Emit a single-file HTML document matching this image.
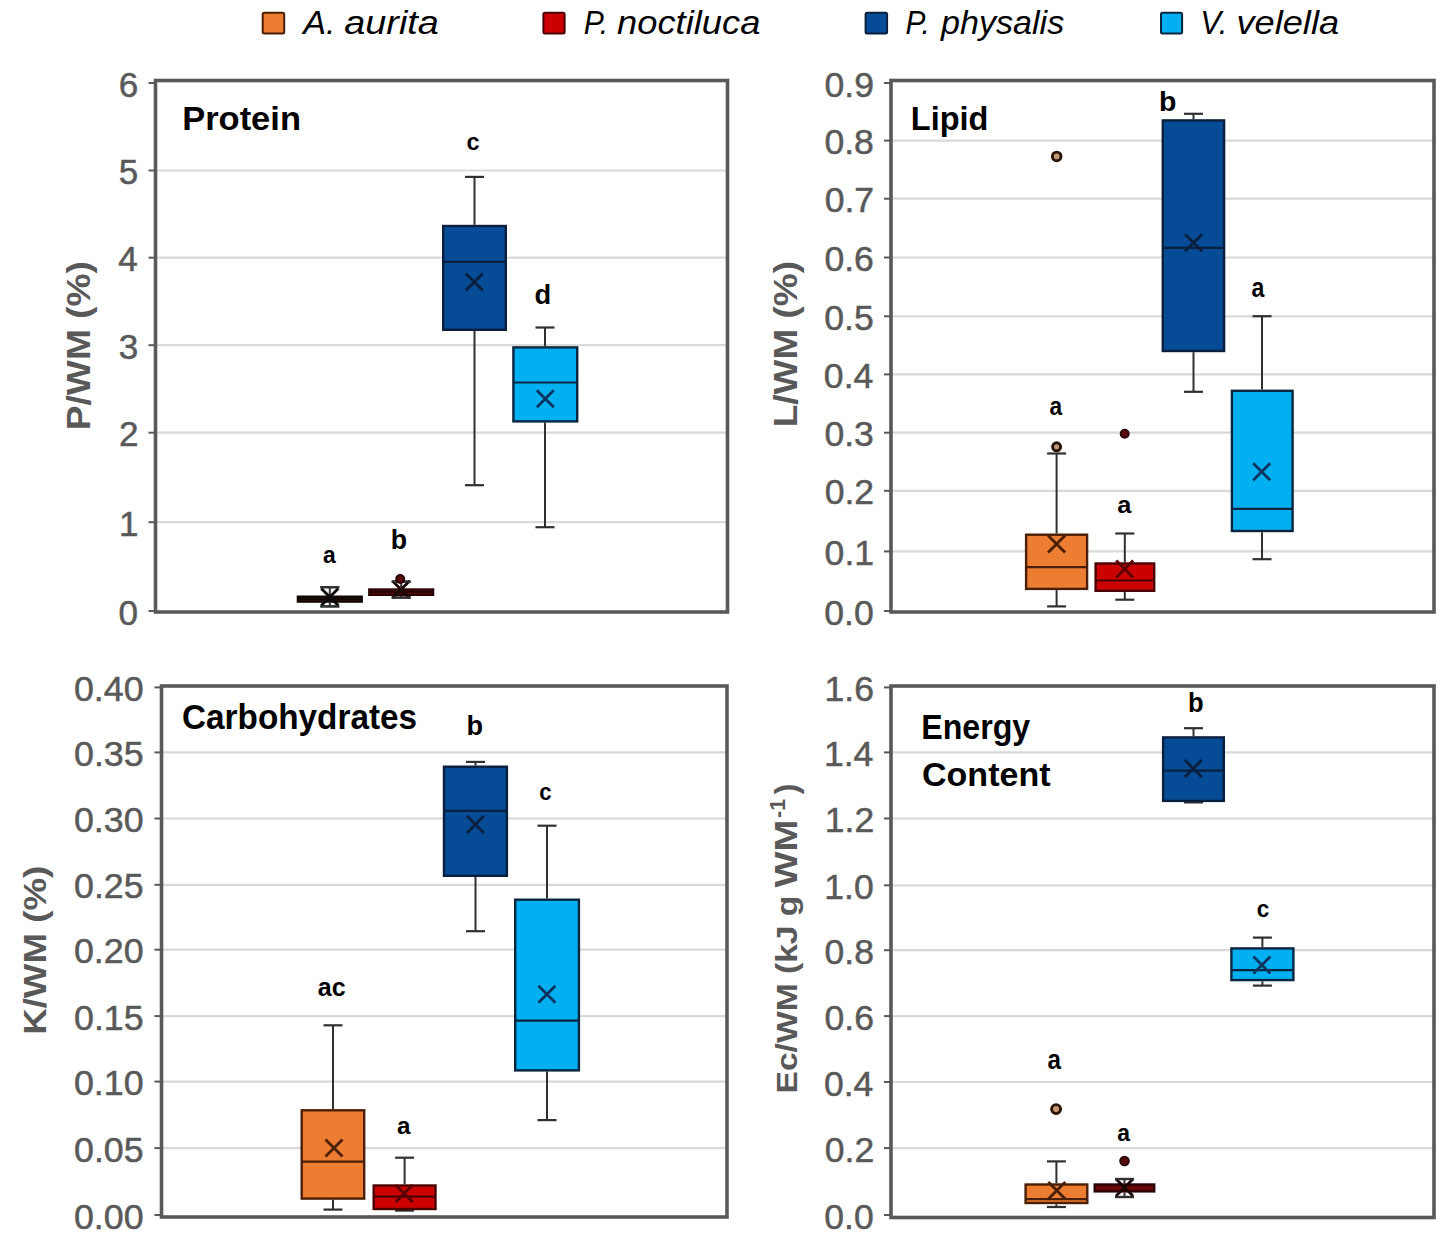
<!DOCTYPE html>
<html><head><meta charset="utf-8"><style>
html,body{margin:0;padding:0;background:#fff;}
svg{display:block;font-family:"Liberation Sans", sans-serif;}
</style></head><body>
<svg width="1450" height="1250" viewBox="0 0 1450 1250">
<rect width="1450" height="1250" fill="#ffffff"/>
<rect x="262.7" y="12.7" width="21.5" height="20.900000000000002" rx="1.5" fill="#ED7D31" stroke="#4a1f05" stroke-width="2"/>
<text x="303.32" y="34.30" font-size="33.45" font-weight="normal" font-style="italic" fill="#000000" stroke="#000000" stroke-width="0" textLength="32.26" lengthAdjust="spacingAndGlyphs">A.</text>
<text x="344.35" y="34.30" font-size="33.45" font-weight="normal" font-style="italic" fill="#000000" stroke="#000000" stroke-width="0" textLength="94.54" lengthAdjust="spacingAndGlyphs">aurita</text>
<rect x="543.4" y="12.7" width="21.200000000000045" height="20.900000000000002" rx="1.5" fill="#CC0000" stroke="#4a0000" stroke-width="2"/>
<text x="583.70" y="34.30" font-size="33.45" font-weight="normal" font-style="italic" fill="#000000" stroke="#000000" stroke-width="0" textLength="24.51" lengthAdjust="spacingAndGlyphs">P.</text>
<text x="617.06" y="34.30" font-size="33.45" font-weight="normal" font-style="italic" fill="#000000" stroke="#000000" stroke-width="0" textLength="143.39" lengthAdjust="spacingAndGlyphs">noctiluca</text>
<rect x="865.6" y="12.7" width="21.5" height="20.900000000000002" rx="1.5" fill="#064B96" stroke="#0a1f3d" stroke-width="2"/>
<text x="905.40" y="34.30" font-size="33.45" font-weight="normal" font-style="italic" fill="#000000" stroke="#000000" stroke-width="0" textLength="24.39" lengthAdjust="spacingAndGlyphs">P.</text>
<text x="941.05" y="34.30" font-size="33.45" font-weight="normal" font-style="italic" fill="#000000" stroke="#000000" stroke-width="0" textLength="123.14" lengthAdjust="spacingAndGlyphs">physalis</text>
<rect x="1161.0" y="12.7" width="21.09999999999991" height="20.900000000000002" rx="1.5" fill="#00B0F0" stroke="#0a2540" stroke-width="2"/>
<text x="1200.26" y="34.30" font-size="33.45" font-weight="normal" font-style="italic" fill="#000000" stroke="#000000" stroke-width="0" textLength="27.31" lengthAdjust="spacingAndGlyphs">V.</text>
<text x="1236.51" y="34.30" font-size="33.45" font-weight="normal" font-style="italic" fill="#000000" stroke="#000000" stroke-width="0" textLength="102.57" lengthAdjust="spacingAndGlyphs">velella</text>
<line x1="155.5" y1="170.5" x2="727.5" y2="170.5" stroke="#d9d9d9" stroke-width="2.2"/>
<line x1="155.5" y1="257.7" x2="727.5" y2="257.7" stroke="#d9d9d9" stroke-width="2.2"/>
<line x1="155.5" y1="345.2" x2="727.5" y2="345.2" stroke="#d9d9d9" stroke-width="2.2"/>
<line x1="155.5" y1="432.7" x2="727.5" y2="432.7" stroke="#d9d9d9" stroke-width="2.2"/>
<line x1="155.5" y1="522.2" x2="727.5" y2="522.2" stroke="#d9d9d9" stroke-width="2.2"/>
<line x1="148.5" y1="83" x2="155.5" y2="83" stroke="#595959" stroke-width="2"/>
<line x1="148.5" y1="170.5" x2="155.5" y2="170.5" stroke="#595959" stroke-width="2"/>
<line x1="148.5" y1="257.7" x2="155.5" y2="257.7" stroke="#595959" stroke-width="2"/>
<line x1="148.5" y1="345.2" x2="155.5" y2="345.2" stroke="#595959" stroke-width="2"/>
<line x1="148.5" y1="432.7" x2="155.5" y2="432.7" stroke="#595959" stroke-width="2"/>
<line x1="148.5" y1="522.2" x2="155.5" y2="522.2" stroke="#595959" stroke-width="2"/>
<line x1="148.5" y1="611" x2="155.5" y2="611" stroke="#595959" stroke-width="2"/>
<rect x="155.5" y="80.5" width="572.0" height="531.5" fill="none" stroke="#595959" stroke-width="3.6"/>
<text x="118.79" y="96.50" font-size="34.70" font-weight="normal" font-style="normal" fill="#595959" stroke="#595959" stroke-width="0.5" textLength="19.53" lengthAdjust="spacingAndGlyphs">6</text>
<text x="118.70" y="184.00" font-size="34.70" font-weight="normal" font-style="normal" fill="#595959" stroke="#595959" stroke-width="0.5" textLength="19.53" lengthAdjust="spacingAndGlyphs">5</text>
<text x="118.25" y="271.20" font-size="34.70" font-weight="normal" font-style="normal" fill="#595959" stroke="#595959" stroke-width="0.5" textLength="19.53" lengthAdjust="spacingAndGlyphs">4</text>
<text x="118.79" y="358.70" font-size="34.70" font-weight="normal" font-style="normal" fill="#595959" stroke="#595959" stroke-width="0.5" textLength="19.53" lengthAdjust="spacingAndGlyphs">3</text>
<text x="119.06" y="446.20" font-size="34.70" font-weight="normal" font-style="normal" fill="#595959" stroke="#595959" stroke-width="0.5" textLength="19.53" lengthAdjust="spacingAndGlyphs">2</text>
<text x="118.97" y="535.70" font-size="34.70" font-weight="normal" font-style="normal" fill="#595959" stroke="#595959" stroke-width="0.5" textLength="19.53" lengthAdjust="spacingAndGlyphs">1</text>
<text x="118.61" y="624.50" font-size="34.70" font-weight="normal" font-style="normal" fill="#595959" stroke="#595959" stroke-width="0.5" textLength="19.53" lengthAdjust="spacingAndGlyphs">0</text>
<text transform="translate(90.30,427.80) rotate(-90)" x="-2.51" y="0" font-size="32.55" font-weight="bold" fill="#595959" textLength="169.26" lengthAdjust="spacingAndGlyphs">P/WM (%)</text>
<text x="182.17" y="130.20" font-size="32.55" font-weight="bold" font-style="normal" fill="#000000" textLength="118.79" lengthAdjust="spacingAndGlyphs">Protein</text>
<line x1="474.5" y1="176.9" x2="474.5" y2="224.8" stroke="#303030" stroke-width="2"/>
<line x1="474.5" y1="331" x2="474.5" y2="485.2" stroke="#303030" stroke-width="2"/>
<line x1="465.0" y1="176.9" x2="484.0" y2="176.9" stroke="#303030" stroke-width="2.2"/>
<line x1="465.0" y1="485.2" x2="484.0" y2="485.2" stroke="#303030" stroke-width="2.2"/>
<rect x="443.2" y="226.0" width="62.6" height="103.79999999999998" fill="#064B96" stroke="#0a1f3d" stroke-width="2.4"/>
<line x1="443.2" y1="261.8" x2="505.8" y2="261.8" stroke="#0a1f3d" stroke-width="2.2"/>
<path d="M465.8,273.5L482.8,290.5M465.8,290.5L482.8,273.5" stroke="#0a1f3d" stroke-width="2.8" fill="none"/>
<line x1="545" y1="327.5" x2="545" y2="346.2" stroke="#303030" stroke-width="2"/>
<line x1="545" y1="422.6" x2="545" y2="527.2" stroke="#303030" stroke-width="2"/>
<line x1="535.5" y1="327.5" x2="554.5" y2="327.5" stroke="#303030" stroke-width="2.2"/>
<line x1="535.5" y1="527.2" x2="554.5" y2="527.2" stroke="#303030" stroke-width="2.2"/>
<rect x="513.4000000000001" y="347.4" width="63.79999999999993" height="74.00000000000003" fill="#00B0F0" stroke="#0a2540" stroke-width="2.4"/>
<line x1="513.4000000000001" y1="382.5" x2="577.1999999999999" y2="382.5" stroke="#0a2540" stroke-width="2.2"/>
<path d="M536.8,390.3L553.8,407.3M536.8,407.3L553.8,390.3" stroke="#0b3460" stroke-width="2.8" fill="none"/>
<line x1="329.8" y1="587.2" x2="329.8" y2="595.5" stroke="#303030" stroke-width="2"/>
<line x1="329.8" y1="602.8" x2="329.8" y2="606.4" stroke="#303030" stroke-width="2"/>
<line x1="320.3" y1="587.2" x2="339.3" y2="587.2" stroke="#303030" stroke-width="2.2"/>
<line x1="320.3" y1="606.4" x2="339.3" y2="606.4" stroke="#303030" stroke-width="2.2"/>
<rect x="297.9" y="596.7" width="63.79999999999999" height="4.899999999999954" fill="#3a160a" stroke="#140804" stroke-width="2.4"/>
<line x1="297.9" y1="599" x2="361.7" y2="599" stroke="#140804" stroke-width="2.2"/>
<path d="M321.3,588.5L338.3,605.5M321.3,605.5L338.3,588.5" stroke="#0a0a0a" stroke-width="2.8" fill="none"/>
<line x1="320.3" y1="587.2" x2="339.3" y2="587.2" stroke="#303030" stroke-width="2.2"/>
<line x1="320.3" y1="606.4" x2="339.3" y2="606.4" stroke="#303030" stroke-width="2.2"/>
<line x1="401.2" y1="581.6" x2="401.2" y2="588.3" stroke="#303030" stroke-width="2"/>
<line x1="401.2" y1="596.0" x2="401.2" y2="597.6" stroke="#303030" stroke-width="2"/>
<line x1="391.7" y1="581.6" x2="410.7" y2="581.6" stroke="#303030" stroke-width="2.2"/>
<line x1="391.7" y1="597.6" x2="410.7" y2="597.6" stroke="#303030" stroke-width="2.2"/>
<rect x="369.3" y="589.5" width="63.79999999999999" height="5.300000000000045" fill="#7a0808" stroke="#2a0505" stroke-width="2.4"/>
<line x1="369.3" y1="592" x2="433.1" y2="592" stroke="#2a0505" stroke-width="2.2"/>
<path d="M392.5,581.0L409.5,598.0M392.5,598.0L409.5,581.0" stroke="#1a0505" stroke-width="2.8" fill="none"/>
<line x1="391.7" y1="581.6" x2="410.7" y2="581.6" stroke="#303030" stroke-width="2.2"/>
<line x1="391.7" y1="597.6" x2="410.7" y2="597.6" stroke="#303030" stroke-width="2.2"/>
<circle cx="400.2" cy="579" r="4.0" fill="#5a0a0a" stroke="#2a0505" stroke-width="2"/>
<text x="322.91" y="562.50" font-size="24.74" font-weight="bold" font-style="normal" fill="#000000" textLength="12.74" lengthAdjust="spacingAndGlyphs">a</text>
<text x="390.76" y="549.20" font-size="27.31" font-weight="bold" font-style="normal" fill="#000000" textLength="16.33" lengthAdjust="spacingAndGlyphs">b</text>
<text x="466.56" y="149.50" font-size="24.00" font-weight="bold" font-style="normal" fill="#000000" textLength="13.12" lengthAdjust="spacingAndGlyphs">c</text>
<text x="534.41" y="303.80" font-size="26.90" font-weight="bold" font-style="normal" fill="#000000" textLength="16.69" lengthAdjust="spacingAndGlyphs">d</text>
<line x1="891" y1="140.6" x2="1434" y2="140.6" stroke="#d9d9d9" stroke-width="2.2"/>
<line x1="891" y1="198.7" x2="1434" y2="198.7" stroke="#d9d9d9" stroke-width="2.2"/>
<line x1="891" y1="257.5" x2="1434" y2="257.5" stroke="#d9d9d9" stroke-width="2.2"/>
<line x1="891" y1="316.3" x2="1434" y2="316.3" stroke="#d9d9d9" stroke-width="2.2"/>
<line x1="891" y1="374.4" x2="1434" y2="374.4" stroke="#d9d9d9" stroke-width="2.2"/>
<line x1="891" y1="432.7" x2="1434" y2="432.7" stroke="#d9d9d9" stroke-width="2.2"/>
<line x1="891" y1="490.8" x2="1434" y2="490.8" stroke="#d9d9d9" stroke-width="2.2"/>
<line x1="891" y1="551.4" x2="1434" y2="551.4" stroke="#d9d9d9" stroke-width="2.2"/>
<line x1="884" y1="83" x2="891" y2="83" stroke="#595959" stroke-width="2"/>
<line x1="884" y1="140.6" x2="891" y2="140.6" stroke="#595959" stroke-width="2"/>
<line x1="884" y1="198.7" x2="891" y2="198.7" stroke="#595959" stroke-width="2"/>
<line x1="884" y1="257.5" x2="891" y2="257.5" stroke="#595959" stroke-width="2"/>
<line x1="884" y1="316.3" x2="891" y2="316.3" stroke="#595959" stroke-width="2"/>
<line x1="884" y1="374.4" x2="891" y2="374.4" stroke="#595959" stroke-width="2"/>
<line x1="884" y1="432.7" x2="891" y2="432.7" stroke="#595959" stroke-width="2"/>
<line x1="884" y1="490.8" x2="891" y2="490.8" stroke="#595959" stroke-width="2"/>
<line x1="884" y1="551.4" x2="891" y2="551.4" stroke="#595959" stroke-width="2"/>
<line x1="884" y1="611" x2="891" y2="611" stroke="#595959" stroke-width="2"/>
<rect x="891" y="80.5" width="543" height="531.5" fill="none" stroke="#595959" stroke-width="3.6"/>
<text x="824.51" y="96.50" font-size="34.70" font-weight="normal" font-style="normal" fill="#595959" stroke="#595959" stroke-width="0.5" textLength="49.46" lengthAdjust="spacingAndGlyphs">0.9</text>
<text x="824.42" y="154.10" font-size="34.70" font-weight="normal" font-style="normal" fill="#595959" stroke="#595959" stroke-width="0.5" textLength="49.46" lengthAdjust="spacingAndGlyphs">0.8</text>
<text x="824.69" y="212.20" font-size="34.70" font-weight="normal" font-style="normal" fill="#595959" stroke="#595959" stroke-width="0.5" textLength="49.46" lengthAdjust="spacingAndGlyphs">0.7</text>
<text x="824.42" y="271.00" font-size="34.70" font-weight="normal" font-style="normal" fill="#595959" stroke="#595959" stroke-width="0.5" textLength="49.46" lengthAdjust="spacingAndGlyphs">0.6</text>
<text x="824.33" y="329.80" font-size="34.70" font-weight="normal" font-style="normal" fill="#595959" stroke="#595959" stroke-width="0.5" textLength="49.46" lengthAdjust="spacingAndGlyphs">0.5</text>
<text x="823.88" y="387.90" font-size="34.70" font-weight="normal" font-style="normal" fill="#595959" stroke="#595959" stroke-width="0.5" textLength="49.46" lengthAdjust="spacingAndGlyphs">0.4</text>
<text x="824.42" y="446.20" font-size="34.70" font-weight="normal" font-style="normal" fill="#595959" stroke="#595959" stroke-width="0.5" textLength="49.46" lengthAdjust="spacingAndGlyphs">0.3</text>
<text x="824.69" y="504.30" font-size="34.70" font-weight="normal" font-style="normal" fill="#595959" stroke="#595959" stroke-width="0.5" textLength="49.46" lengthAdjust="spacingAndGlyphs">0.2</text>
<text x="824.60" y="564.90" font-size="34.70" font-weight="normal" font-style="normal" fill="#595959" stroke="#595959" stroke-width="0.5" textLength="49.46" lengthAdjust="spacingAndGlyphs">0.1</text>
<text x="824.24" y="624.50" font-size="34.70" font-weight="normal" font-style="normal" fill="#595959" stroke="#595959" stroke-width="0.5" textLength="49.46" lengthAdjust="spacingAndGlyphs">0.0</text>
<text transform="translate(796.50,424.80) rotate(-90)" x="-2.50" y="0" font-size="32.55" font-weight="bold" fill="#595959" textLength="166.29" lengthAdjust="spacingAndGlyphs">L/WM (%)</text>
<text x="910.81" y="130.40" font-size="32.55" font-weight="bold" font-style="normal" fill="#000000" textLength="77.63" lengthAdjust="spacingAndGlyphs">Lipid</text>
<line x1="1193.5" y1="113.8" x2="1193.5" y2="119.2" stroke="#303030" stroke-width="2"/>
<line x1="1193.5" y1="352.2" x2="1193.5" y2="391.8" stroke="#303030" stroke-width="2"/>
<line x1="1184.0" y1="113.8" x2="1203.0" y2="113.8" stroke="#303030" stroke-width="2.2"/>
<line x1="1184.0" y1="391.8" x2="1203.0" y2="391.8" stroke="#303030" stroke-width="2.2"/>
<rect x="1162.8" y="120.4" width="61.30000000000005" height="230.6" fill="#064B96" stroke="#0a1f3d" stroke-width="2.4"/>
<line x1="1162.8" y1="247.8" x2="1224.1" y2="247.8" stroke="#0a1f3d" stroke-width="2.2"/>
<path d="M1185.1,234.2L1202.1,251.2M1185.1,251.2L1202.1,234.2" stroke="#0a1f3d" stroke-width="2.8" fill="none"/>
<line x1="1262.0" y1="316.2" x2="1262.0" y2="389.6" stroke="#303030" stroke-width="2"/>
<line x1="1262.0" y1="532.2" x2="1262.0" y2="559.2" stroke="#303030" stroke-width="2"/>
<line x1="1252.5" y1="316.2" x2="1271.5" y2="316.2" stroke="#303030" stroke-width="2.2"/>
<line x1="1252.5" y1="559.2" x2="1271.5" y2="559.2" stroke="#303030" stroke-width="2.2"/>
<rect x="1231.9" y="390.8" width="60.69999999999991" height="140.20000000000002" fill="#00B0F0" stroke="#0a2540" stroke-width="2.4"/>
<line x1="1231.9" y1="508.9" x2="1292.6" y2="508.9" stroke="#0a2540" stroke-width="2.2"/>
<path d="M1253.2,463.3L1270.2,480.3M1253.2,480.3L1270.2,463.3" stroke="#0b3460" stroke-width="2.8" fill="none"/>
<line x1="1056.6" y1="453.5" x2="1056.6" y2="533.5" stroke="#303030" stroke-width="2"/>
<line x1="1056.6" y1="590.1" x2="1056.6" y2="606.4" stroke="#303030" stroke-width="2"/>
<line x1="1047.1" y1="453.5" x2="1066.1" y2="453.5" stroke="#303030" stroke-width="2.2"/>
<line x1="1047.1" y1="606.4" x2="1066.1" y2="606.4" stroke="#303030" stroke-width="2.2"/>
<rect x="1026.1000000000001" y="534.7" width="60.999999999999865" height="54.200000000000024" fill="#ED7D31" stroke="#4a1f05" stroke-width="2.4"/>
<line x1="1026.1000000000001" y1="567.1" x2="1087.1" y2="567.1" stroke="#4a1f05" stroke-width="2.2"/>
<path d="M1048.1,535.5L1065.1,552.5M1048.1,552.5L1065.1,535.5" stroke="#4a1f05" stroke-width="2.8" fill="none"/>
<circle cx="1056.6" cy="446.8" r="4.0" fill="#c49a74" stroke="#2a1405" stroke-width="2.9"/>
<circle cx="1056.7" cy="156.4" r="4.3" fill="#c49a74" stroke="#2a1405" stroke-width="2.9"/>
<line x1="1124.8" y1="533.5" x2="1124.8" y2="562.3" stroke="#303030" stroke-width="2"/>
<line x1="1124.8" y1="592.0" x2="1124.8" y2="599.7" stroke="#303030" stroke-width="2"/>
<line x1="1115.3" y1="533.5" x2="1134.3" y2="533.5" stroke="#303030" stroke-width="2.2"/>
<line x1="1115.3" y1="599.7" x2="1134.3" y2="599.7" stroke="#303030" stroke-width="2.2"/>
<rect x="1095.6000000000001" y="563.5" width="58.6" height="27.300000000000047" fill="#CC0000" stroke="#4a0000" stroke-width="2.4"/>
<line x1="1095.6000000000001" y1="580.5" x2="1154.2" y2="580.5" stroke="#4a0000" stroke-width="2.2"/>
<path d="M1116.2,560.5L1133.2,577.5M1116.2,577.5L1133.2,560.5" stroke="#5a0000" stroke-width="2.8" fill="none"/>
<circle cx="1124.7" cy="433.7" r="4.0" fill="#5a0a0a" stroke="#2a0505" stroke-width="2"/>
<text x="1049.62" y="414.50" font-size="24.93" font-weight="bold" font-style="normal" fill="#000000" textLength="12.64" lengthAdjust="spacingAndGlyphs">a</text>
<text x="1117.24" y="513.40" font-size="23.26" font-weight="bold" font-style="normal" fill="#000000" textLength="14.10" lengthAdjust="spacingAndGlyphs">a</text>
<text x="1159.05" y="111.00" font-size="26.90" font-weight="bold" font-style="normal" fill="#000000" textLength="17.42" lengthAdjust="spacingAndGlyphs">b</text>
<text x="1251.61" y="297.40" font-size="26.79" font-weight="bold" font-style="normal" fill="#000000" textLength="12.85" lengthAdjust="spacingAndGlyphs">a</text>
<line x1="161.5" y1="752.4" x2="727" y2="752.4" stroke="#d9d9d9" stroke-width="2.2"/>
<line x1="161.5" y1="818.5" x2="727" y2="818.5" stroke="#d9d9d9" stroke-width="2.2"/>
<line x1="161.5" y1="884.8" x2="727" y2="884.8" stroke="#d9d9d9" stroke-width="2.2"/>
<line x1="161.5" y1="949.7" x2="727" y2="949.7" stroke="#d9d9d9" stroke-width="2.2"/>
<line x1="161.5" y1="1016.1" x2="727" y2="1016.1" stroke="#d9d9d9" stroke-width="2.2"/>
<line x1="161.5" y1="1081.6" x2="727" y2="1081.6" stroke="#d9d9d9" stroke-width="2.2"/>
<line x1="161.5" y1="1148.1" x2="727" y2="1148.1" stroke="#d9d9d9" stroke-width="2.2"/>
<line x1="154.5" y1="687.4" x2="161.5" y2="687.4" stroke="#595959" stroke-width="2"/>
<line x1="154.5" y1="752.4" x2="161.5" y2="752.4" stroke="#595959" stroke-width="2"/>
<line x1="154.5" y1="818.5" x2="161.5" y2="818.5" stroke="#595959" stroke-width="2"/>
<line x1="154.5" y1="884.8" x2="161.5" y2="884.8" stroke="#595959" stroke-width="2"/>
<line x1="154.5" y1="949.7" x2="161.5" y2="949.7" stroke="#595959" stroke-width="2"/>
<line x1="154.5" y1="1016.1" x2="161.5" y2="1016.1" stroke="#595959" stroke-width="2"/>
<line x1="154.5" y1="1081.6" x2="161.5" y2="1081.6" stroke="#595959" stroke-width="2"/>
<line x1="154.5" y1="1148.1" x2="161.5" y2="1148.1" stroke="#595959" stroke-width="2"/>
<line x1="154.5" y1="1215" x2="161.5" y2="1215" stroke="#595959" stroke-width="2"/>
<rect x="161.5" y="686" width="565.5" height="531" fill="none" stroke="#595959" stroke-width="3.6"/>
<text x="73.91" y="700.90" font-size="34.70" font-weight="normal" font-style="normal" fill="#595959" stroke="#595959" stroke-width="0.5" textLength="69.64" lengthAdjust="spacingAndGlyphs">0.40</text>
<text x="74.00" y="765.90" font-size="34.70" font-weight="normal" font-style="normal" fill="#595959" stroke="#595959" stroke-width="0.5" textLength="69.64" lengthAdjust="spacingAndGlyphs">0.35</text>
<text x="73.91" y="832.00" font-size="34.70" font-weight="normal" font-style="normal" fill="#595959" stroke="#595959" stroke-width="0.5" textLength="69.64" lengthAdjust="spacingAndGlyphs">0.30</text>
<text x="74.00" y="898.30" font-size="34.70" font-weight="normal" font-style="normal" fill="#595959" stroke="#595959" stroke-width="0.5" textLength="69.64" lengthAdjust="spacingAndGlyphs">0.25</text>
<text x="73.91" y="963.20" font-size="34.70" font-weight="normal" font-style="normal" fill="#595959" stroke="#595959" stroke-width="0.5" textLength="69.64" lengthAdjust="spacingAndGlyphs">0.20</text>
<text x="74.00" y="1029.60" font-size="34.70" font-weight="normal" font-style="normal" fill="#595959" stroke="#595959" stroke-width="0.5" textLength="69.64" lengthAdjust="spacingAndGlyphs">0.15</text>
<text x="73.91" y="1095.10" font-size="34.70" font-weight="normal" font-style="normal" fill="#595959" stroke="#595959" stroke-width="0.5" textLength="69.64" lengthAdjust="spacingAndGlyphs">0.10</text>
<text x="74.00" y="1161.60" font-size="34.70" font-weight="normal" font-style="normal" fill="#595959" stroke="#595959" stroke-width="0.5" textLength="69.64" lengthAdjust="spacingAndGlyphs">0.05</text>
<text x="73.91" y="1228.50" font-size="34.70" font-weight="normal" font-style="normal" fill="#595959" stroke="#595959" stroke-width="0.5" textLength="69.64" lengthAdjust="spacingAndGlyphs">0.00</text>
<text transform="translate(46.00,1032.40) rotate(-90)" x="-2.48" y="0" font-size="32.00" font-weight="bold" fill="#595959" textLength="169.11" lengthAdjust="spacingAndGlyphs">K/WM (%)</text>
<text x="182.07" y="728.60" font-size="34.76" font-weight="bold" font-style="normal" fill="#000000" textLength="234.98" lengthAdjust="spacingAndGlyphs">Carbohydrates</text>
<line x1="475.5" y1="761.9" x2="475.5" y2="765.5" stroke="#303030" stroke-width="2"/>
<line x1="475.5" y1="877.0" x2="475.5" y2="931.2" stroke="#303030" stroke-width="2"/>
<line x1="466.0" y1="761.9" x2="485.0" y2="761.9" stroke="#303030" stroke-width="2.2"/>
<line x1="466.0" y1="931.2" x2="485.0" y2="931.2" stroke="#303030" stroke-width="2.2"/>
<rect x="444.0" y="766.7" width="62.90000000000001" height="109.1" fill="#064B96" stroke="#0a1f3d" stroke-width="2.4"/>
<line x1="444.0" y1="810.9" x2="506.90000000000003" y2="810.9" stroke="#0a1f3d" stroke-width="2.2"/>
<path d="M466.9,816.1L483.9,833.1M466.9,833.1L483.9,816.1" stroke="#0a1f3d" stroke-width="2.8" fill="none"/>
<line x1="547" y1="825.7" x2="547" y2="898.5" stroke="#303030" stroke-width="2"/>
<line x1="547" y1="1071.6" x2="547" y2="1120.1" stroke="#303030" stroke-width="2"/>
<line x1="537.5" y1="825.7" x2="556.5" y2="825.7" stroke="#303030" stroke-width="2.2"/>
<line x1="537.5" y1="1120.1" x2="556.5" y2="1120.1" stroke="#303030" stroke-width="2.2"/>
<rect x="515.2" y="899.7" width="63.700000000000024" height="170.6999999999999" fill="#00B0F0" stroke="#0a2540" stroke-width="2.4"/>
<line x1="515.2" y1="1020.7" x2="578.9" y2="1020.7" stroke="#0a2540" stroke-width="2.2"/>
<path d="M538.4,985.8L555.4,1002.8M538.4,1002.8L555.4,985.8" stroke="#0b3460" stroke-width="2.8" fill="none"/>
<line x1="333" y1="1025.3" x2="333" y2="1109.1" stroke="#303030" stroke-width="2"/>
<line x1="333" y1="1199.8" x2="333" y2="1209.6" stroke="#303030" stroke-width="2"/>
<line x1="323.5" y1="1025.3" x2="342.5" y2="1025.3" stroke="#303030" stroke-width="2.2"/>
<line x1="323.5" y1="1209.6" x2="342.5" y2="1209.6" stroke="#303030" stroke-width="2.2"/>
<rect x="301.7" y="1110.3" width="62.49999999999998" height="88.30000000000004" fill="#ED7D31" stroke="#4a1f05" stroke-width="2.4"/>
<line x1="301.7" y1="1161.6" x2="364.2" y2="1161.6" stroke="#4a1f05" stroke-width="2.2"/>
<path d="M325.5,1139.5L342.5,1156.5M325.5,1156.5L342.5,1139.5" stroke="#4a1f05" stroke-width="2.8" fill="none"/>
<line x1="404.6" y1="1157.7" x2="404.6" y2="1184.3" stroke="#303030" stroke-width="2"/>
<line x1="404.6" y1="1210.2" x2="404.6" y2="1210.6" stroke="#303030" stroke-width="2"/>
<line x1="395.1" y1="1157.7" x2="414.1" y2="1157.7" stroke="#303030" stroke-width="2.2"/>
<line x1="395.1" y1="1210.6" x2="414.1" y2="1210.6" stroke="#303030" stroke-width="2.2"/>
<rect x="373.7" y="1185.5" width="61.79999999999999" height="23.500000000000092" fill="#CC0000" stroke="#4a0000" stroke-width="2.4"/>
<line x1="373.7" y1="1196.6" x2="435.5" y2="1196.6" stroke="#4a0000" stroke-width="2.2"/>
<path d="M395.7,1184.9L412.7,1201.9M395.7,1201.9L412.7,1184.9" stroke="#5a0000" stroke-width="2.8" fill="none"/>
<text x="317.75" y="995.70" font-size="26.23" font-weight="bold" font-style="normal" fill="#000000" textLength="27.80" lengthAdjust="spacingAndGlyphs">ac</text>
<text x="397.07" y="1134.00" font-size="24.19" font-weight="bold" font-style="normal" fill="#000000" textLength="13.47" lengthAdjust="spacingAndGlyphs">a</text>
<text x="466.44" y="735.30" font-size="27.86" font-weight="bold" font-style="normal" fill="#000000" textLength="16.57" lengthAdjust="spacingAndGlyphs">b</text>
<text x="539.31" y="800.10" font-size="24.19" font-weight="bold" font-style="normal" fill="#000000" textLength="12.32" lengthAdjust="spacingAndGlyphs">c</text>
<line x1="891" y1="752.4" x2="1434" y2="752.4" stroke="#d9d9d9" stroke-width="2.2"/>
<line x1="891" y1="818.5" x2="1434" y2="818.5" stroke="#d9d9d9" stroke-width="2.2"/>
<line x1="891" y1="885.3" x2="1434" y2="885.3" stroke="#d9d9d9" stroke-width="2.2"/>
<line x1="891" y1="950.2" x2="1434" y2="950.2" stroke="#d9d9d9" stroke-width="2.2"/>
<line x1="891" y1="1016.1" x2="1434" y2="1016.1" stroke="#d9d9d9" stroke-width="2.2"/>
<line x1="891" y1="1082" x2="1434" y2="1082" stroke="#d9d9d9" stroke-width="2.2"/>
<line x1="891" y1="1148.1" x2="1434" y2="1148.1" stroke="#d9d9d9" stroke-width="2.2"/>
<line x1="884" y1="687.4" x2="891" y2="687.4" stroke="#595959" stroke-width="2"/>
<line x1="884" y1="752.4" x2="891" y2="752.4" stroke="#595959" stroke-width="2"/>
<line x1="884" y1="818.5" x2="891" y2="818.5" stroke="#595959" stroke-width="2"/>
<line x1="884" y1="885.3" x2="891" y2="885.3" stroke="#595959" stroke-width="2"/>
<line x1="884" y1="950.2" x2="891" y2="950.2" stroke="#595959" stroke-width="2"/>
<line x1="884" y1="1016.1" x2="891" y2="1016.1" stroke="#595959" stroke-width="2"/>
<line x1="884" y1="1082" x2="891" y2="1082" stroke="#595959" stroke-width="2"/>
<line x1="884" y1="1148.1" x2="891" y2="1148.1" stroke="#595959" stroke-width="2"/>
<line x1="884" y1="1215" x2="891" y2="1215" stroke="#595959" stroke-width="2"/>
<rect x="891" y="686" width="543" height="531.5" fill="none" stroke="#595959" stroke-width="3.6"/>
<text x="824.52" y="700.90" font-size="34.70" font-weight="normal" font-style="normal" fill="#595959" stroke="#595959" stroke-width="0.5" textLength="49.37" lengthAdjust="spacingAndGlyphs">1.6</text>
<text x="823.98" y="765.90" font-size="34.70" font-weight="normal" font-style="normal" fill="#595959" stroke="#595959" stroke-width="0.5" textLength="49.37" lengthAdjust="spacingAndGlyphs">1.4</text>
<text x="824.78" y="832.00" font-size="34.70" font-weight="normal" font-style="normal" fill="#595959" stroke="#595959" stroke-width="0.5" textLength="49.37" lengthAdjust="spacingAndGlyphs">1.2</text>
<text x="824.34" y="898.80" font-size="34.70" font-weight="normal" font-style="normal" fill="#595959" stroke="#595959" stroke-width="0.5" textLength="49.37" lengthAdjust="spacingAndGlyphs">1.0</text>
<text x="824.52" y="963.70" font-size="34.70" font-weight="normal" font-style="normal" fill="#595959" stroke="#595959" stroke-width="0.5" textLength="49.37" lengthAdjust="spacingAndGlyphs">0.8</text>
<text x="824.52" y="1029.60" font-size="34.70" font-weight="normal" font-style="normal" fill="#595959" stroke="#595959" stroke-width="0.5" textLength="49.37" lengthAdjust="spacingAndGlyphs">0.6</text>
<text x="823.98" y="1095.50" font-size="34.70" font-weight="normal" font-style="normal" fill="#595959" stroke="#595959" stroke-width="0.5" textLength="49.37" lengthAdjust="spacingAndGlyphs">0.4</text>
<text x="824.78" y="1161.60" font-size="34.70" font-weight="normal" font-style="normal" fill="#595959" stroke="#595959" stroke-width="0.5" textLength="49.37" lengthAdjust="spacingAndGlyphs">0.2</text>
<text x="824.34" y="1228.50" font-size="34.70" font-weight="normal" font-style="normal" fill="#595959" stroke="#595959" stroke-width="0.5" textLength="49.37" lengthAdjust="spacingAndGlyphs">0.0</text>
<text x="921.23" y="738.70" font-size="34.18" font-weight="bold" font-style="normal" fill="#000000" textLength="109.04" lengthAdjust="spacingAndGlyphs">Energy</text>
<text x="922.04" y="785.60" font-size="33.69" font-weight="bold" font-style="normal" fill="#000000" textLength="128.47" lengthAdjust="spacingAndGlyphs">Content</text>
<line x1="1193.5" y1="728.2" x2="1193.5" y2="736.2" stroke="#303030" stroke-width="2"/>
<line x1="1193.5" y1="802.1" x2="1193.5" y2="802.4" stroke="#303030" stroke-width="2"/>
<line x1="1184.0" y1="728.2" x2="1203.0" y2="728.2" stroke="#303030" stroke-width="2.2"/>
<line x1="1184.0" y1="802.4" x2="1203.0" y2="802.4" stroke="#303030" stroke-width="2.2"/>
<rect x="1163.1000000000001" y="737.4000000000001" width="60.69999999999991" height="63.49999999999998" fill="#064B96" stroke="#0a1f3d" stroke-width="2.4"/>
<line x1="1163.1000000000001" y1="770.7" x2="1223.8" y2="770.7" stroke="#0a1f3d" stroke-width="2.2"/>
<path d="M1184.8,760.1L1201.8,777.1M1184.8,777.1L1201.8,760.1" stroke="#0a1f3d" stroke-width="2.8" fill="none"/>
<line x1="1262.4" y1="937.6" x2="1262.4" y2="947.2" stroke="#303030" stroke-width="2"/>
<line x1="1262.4" y1="981.3" x2="1262.4" y2="985.6" stroke="#303030" stroke-width="2"/>
<line x1="1252.9" y1="937.6" x2="1271.9" y2="937.6" stroke="#303030" stroke-width="2.2"/>
<line x1="1252.9" y1="985.6" x2="1271.9" y2="985.6" stroke="#303030" stroke-width="2.2"/>
<rect x="1231.4" y="948.4000000000001" width="61.999999999999865" height="31.69999999999991" fill="#00B0F0" stroke="#0a2540" stroke-width="2.4"/>
<line x1="1231.4" y1="970.2" x2="1293.3999999999999" y2="970.2" stroke="#0a2540" stroke-width="2.2"/>
<path d="M1253.4,956.5L1270.4,973.5M1253.4,973.5L1270.4,956.5" stroke="#0b3460" stroke-width="2.8" fill="none"/>
<line x1="1056.4" y1="1161.4" x2="1056.4" y2="1183.3" stroke="#303030" stroke-width="2"/>
<line x1="1056.4" y1="1204.2" x2="1056.4" y2="1207" stroke="#303030" stroke-width="2"/>
<line x1="1046.9" y1="1161.4" x2="1065.9" y2="1161.4" stroke="#303030" stroke-width="2.2"/>
<line x1="1046.9" y1="1207" x2="1065.9" y2="1207" stroke="#303030" stroke-width="2.2"/>
<rect x="1025.6000000000001" y="1184.5" width="61.69999999999991" height="18.500000000000092" fill="#ED7D31" stroke="#4a1f05" stroke-width="2.4"/>
<line x1="1025.6000000000001" y1="1199.1" x2="1087.3" y2="1199.1" stroke="#4a1f05" stroke-width="2.2"/>
<path d="M1048.3,1182.0L1065.3,1199.0M1048.3,1199.0L1065.3,1182.0" stroke="#4a1f05" stroke-width="2.8" fill="none"/>
<circle cx="1056.1" cy="1109.1" r="4.5" fill="#c49a74" stroke="#2a1405" stroke-width="2.9"/>
<line x1="1124.5" y1="1179" x2="1124.5" y2="1183.3" stroke="#303030" stroke-width="2"/>
<line x1="1124.5" y1="1192.6" x2="1124.5" y2="1197" stroke="#303030" stroke-width="2"/>
<line x1="1115.0" y1="1179" x2="1134.0" y2="1179" stroke="#303030" stroke-width="2.2"/>
<line x1="1115.0" y1="1197" x2="1134.0" y2="1197" stroke="#303030" stroke-width="2.2"/>
<rect x="1094.7" y="1184.5" width="59.50000000000009" height="6.899999999999954" fill="#6a0808" stroke="#2a0505" stroke-width="2.4"/>
<path d="M1116.0,1179.1L1133.0,1196.1M1116.0,1196.1L1133.0,1179.1" stroke="#1a0505" stroke-width="2.8" fill="none"/>
<line x1="1115.0" y1="1179" x2="1134.0" y2="1179" stroke="#303030" stroke-width="2.2"/>
<line x1="1115.0" y1="1197" x2="1134.0" y2="1197" stroke="#303030" stroke-width="2.2"/>
<circle cx="1124.5" cy="1161" r="4.3" fill="#5a0a0a" stroke="#2a0505" stroke-width="2"/>
<text x="1047.47" y="1068.80" font-size="28.09" font-weight="bold" font-style="normal" fill="#000000" textLength="13.47" lengthAdjust="spacingAndGlyphs">a</text>
<text x="1117.31" y="1140.80" font-size="24.19" font-weight="bold" font-style="normal" fill="#000000" textLength="12.74" lengthAdjust="spacingAndGlyphs">a</text>
<text x="1188.04" y="712.40" font-size="26.76" font-weight="bold" font-style="normal" fill="#000000" textLength="15.60" lengthAdjust="spacingAndGlyphs">b</text>
<text x="1256.70" y="917.00" font-size="24.19" font-weight="bold" font-style="normal" fill="#000000" textLength="12.55" lengthAdjust="spacingAndGlyphs">c</text>
<text transform="translate(796.70,1091.20) rotate(-90)" x="-2.27" y="0" font-size="30.07" font-weight="bold" fill="#595959" textLength="197.84" lengthAdjust="spacingAndGlyphs">Ec/WM (kJ g</text>
<text transform="translate(796.70,887.50) rotate(-90)" x="-0.10" y="0" font-size="31.71" font-weight="bold" fill="#595959" textLength="67.95" lengthAdjust="spacingAndGlyphs">WM</text>
<text transform="translate(784.80,817.10) rotate(-90)" x="-0.86" y="0" font-size="22.25" font-weight="bold" fill="#595959" textLength="19.08" lengthAdjust="spacingAndGlyphs">-1</text>
<text transform="translate(796.7,794.1) rotate(-90)" x="-0.08" y="0" font-size="31.71" font-weight="bold" fill="#595959">)</text>
</svg></body></html>
